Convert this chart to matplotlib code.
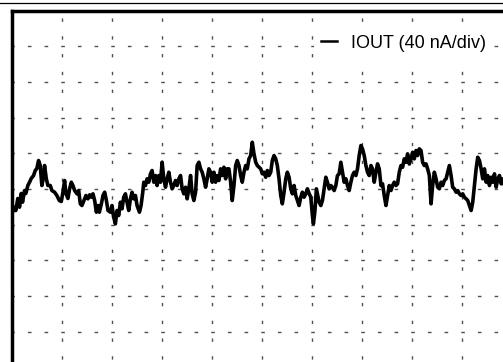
import numpy as np
import matplotlib.pyplot as plt
from matplotlib.lines import Line2D

plt.rcParams['font.family'] = ['Liberation Sans', 'DejaVu Sans']
plt.rcParams['lines.scale_dashes'] = False

# time in divisions, output current in nA (40 nA/div)
t_div = [
    0.02, 0.06, 0.086, 0.126, 0.16, 0.194, 0.22, 0.26, 0.286, 0.326,
    0.36, 0.394, 0.44, 0.474, 0.506, 0.54, 0.574, 0.606, 0.634, 0.66,
    0.694, 0.726, 0.774, 0.806, 0.86, 0.906, 0.954, 0.994, 1.026, 1.06,
    1.086, 1.126, 1.16, 1.194, 1.226, 1.26, 1.306, 1.34, 1.374, 1.406,
    1.446, 1.486, 1.526, 1.56, 1.594, 1.626, 1.66, 1.694, 1.726, 1.754,
    1.794, 1.826, 1.86, 1.894, 1.926, 1.974, 2.006, 2.04, 2.074, 2.106,
    2.14, 2.174, 2.206, 2.24, 2.274, 2.306, 2.34, 2.374, 2.406, 2.44,
    2.474, 2.506, 2.554, 2.586, 2.62, 2.64, 2.674, 2.706, 2.74, 2.774,
    2.806, 2.84, 2.874, 2.906, 2.94, 2.974, 3.006, 3.04, 3.074, 3.106,
    3.14, 3.174, 3.206, 3.24, 3.274, 3.306, 3.34, 3.374, 3.406, 3.44,
    3.474, 3.506, 3.54, 3.574, 3.606, 3.64, 3.674, 3.706, 3.74, 3.774,
    3.806, 3.84, 3.874, 3.906, 3.94, 3.974, 4.006, 4.04, 4.074, 4.106,
    4.14, 4.174, 4.206, 4.24, 4.274, 4.306, 4.34, 4.374, 4.406, 4.44,
    4.474, 4.506, 4.54, 4.574, 4.606, 4.64, 4.674, 4.706, 4.74, 4.774,
    4.806, 4.84, 4.874, 4.906, 4.94, 4.974, 5.006, 5.04, 5.074, 5.106,
    5.14, 5.174, 5.206, 5.24, 5.274, 5.306, 5.34, 5.374, 5.406, 5.44,
    5.474, 5.506, 5.54, 5.574, 5.606, 5.64, 5.674, 5.706, 5.74, 5.774,
    5.806, 5.84, 5.874, 5.906, 5.94, 5.974, 6.006, 6.026, 6.054, 6.086,
    6.114, 6.14, 6.174, 6.206, 6.24, 6.274, 6.306, 6.34, 6.374, 6.406,
    6.44, 6.474, 6.506, 6.54, 6.574, 6.606, 6.64, 6.674, 6.706, 6.74,
    6.774, 6.806, 6.84, 6.874, 6.906, 6.94, 6.974, 7.006, 7.04, 7.074,
    7.106, 7.14, 7.174, 7.206, 7.24, 7.274, 7.306, 7.34, 7.374, 7.406,
    7.44, 7.474, 7.506, 7.54, 7.574, 7.606, 7.64, 7.674, 7.706, 7.74,
    7.774, 7.806, 7.84, 7.874, 7.906, 7.94, 7.974, 8.006, 8.04, 8.074,
    8.106, 8.14, 8.174, 8.206, 8.24, 8.274, 8.306, 8.34, 8.374, 8.406,
    8.44, 8.474, 8.506, 8.54, 8.574, 8.606, 8.64, 8.674, 8.706, 8.74,
    8.774, 8.806, 8.84, 8.874, 8.906, 8.94, 8.974, 9.006, 9.04, 9.074,
    9.106, 9.14, 9.174, 9.206, 9.24, 9.274, 9.306, 9.34, 9.374, 9.406,
    9.44, 9.474, 9.506, 9.54, 9.574, 9.606, 9.64, 9.674, 9.706, 9.74,
    9.774, 9.806, 9.84, 9.9,
]
iout_na = [
    -26.0, -20.4, -24.1, -10.6, -20.4, -5.0, -14.8, -1.7, -5.0, 3.9,
    7.6, 11.8, 15.1, 20.7, 23.0, 31.9, 26.3, 3.9, 11.8, 26.3,
    11.8, 3.9, 3.9, -1.7, -3.6, -7.3, -12.9, -14.0, -3.6, 9.5,
    -5.0, -10.6, 0.2, 7.6, 3.9, -1.7, -5.4, -1.7, -16.6, -18.5,
    -12.9, -7.3, -11.0, -6.5, -9.2, -5.4, -12.9, -26.0, -18.5, -26.0,
    -16.6, -7.3, -3.6, -12.9, -24.1, -26.0, -18.5, -31.6, -39.0, -24.1,
    -29.7, -14.8, -22.2, -9.2, -5.4, -14.8, -24.1, -11.0, -3.6, -11.0,
    -7.3, -18.5, -26.0, -18.5, -3.6, 7.6, 3.9, 11.4, 7.6, 17.0,
    20.7, 7.6, 15.1, 3.9, 15.1, 7.6, 30.0, 11.4, 2.0, 11.4,
    18.8, 7.6, 0.2, 3.9, 9.5, 3.9, 11.4, 15.1, 0.2, -5.4,
    2.0, -11.0, 0.2, 15.1, -5.4, -12.9, -3.6, 26.3, 30.0, 22.6,
    18.8, 11.4, 2.0, 11.4, 22.6, 18.8, 7.6, 18.8, 7.6, 15.1,
    9.5, 22.6, 15.1, 24.4, 11.4, 22.6, 22.6, 7.6, -12.9, 3.9,
    26.3, 31.9, 26.3, 15.1, 7.6, 18.8, 26.3, 22.6, 33.8, 37.5,
    52.4, 39.4, 30.0, 26.3, 24.4, 22.6, 17.0, 18.8, 13.2, 20.7,
    15.1, 18.8, 31.9, 37.5, 33.8, 26.3, 11.4, -7.3, -16.6, -3.6,
    11.4, 18.8, 13.2, 0.2, -5.4, 3.9, -7.3, -12.9, -18.5, -9.2,
    -3.6, -9.2, -5.4, 0.2, -5.0, -9.2, -29.7, -39.0, -26.0, 0.2,
    -7.3, -14.8, -18.5, -12.9, 0.2, 13.2, 7.6, 0.2, 3.9, 2.0,
    -1.7, 3.9, 15.1, 17.0, 30.0, 18.8, 7.6, 11.4, 3.9, -1.7,
    7.6, 15.1, 18.8, 15.1, 22.6, 37.5, 48.7, 45.0, 37.5, 26.3,
    18.8, 15.1, 26.3, 22.6, 7.6, 18.8, 28.2, 22.6, 3.9, 5.8,
    -7.3, -18.5, -7.3, 3.9, -1.7, 3.9, 7.6, 3.9, 5.8, 18.8,
    26.3, 24.4, 33.8, 30.0, 39.4, 28.0, 33.8, 41.2, 33.8, 43.1,
    37.5, 45.0, 43.1, 30.0, 26.3, 28.2, 22.6, 15.1, -16.6, 3.9,
    18.8, 11.4, 2.0, 0.2, 7.6, 3.9, 9.5, 11.4, 18.8, 26.3,
    15.1, 2.0, 0.2, -3.6, -1.7, -5.4, -7.3, -5.4, -9.2, -11.0,
    -12.9, -18.5, -24.1, -14.8, 3.9, 22.6, 35.6, 31.9, 22.6, 11.4,
    22.6, 7.6, 15.1, 3.9, 13.2, 7.6, 17.0, 2.0, 11.4, 15.1,
    5.8, 11.4, 3.9, 6.0,
]

W, H = 503, 362
fig = plt.figure(figsize=(W / 100, H / 100), dpi=100)

# scope screen: 10 x 10 divisions, partly running off the page
left, top = 11.5, 10.5
dx, dy = 50.1, 35.7
ax = fig.add_axes([left / W, 1 - (top + 10 * dy) / H, 10 * dx / W, 10 * dy / H])

ax.plot(t_div, iout_na, color='black', lw=2.6, label='IOUT (40 nA/div)',
        solid_joinstyle='round')

ax.set_xlim(0, 10)
ax.set_ylim(-200, 200)
ax.set_xticks(np.arange(0, 11))
ax.set_yticks(np.arange(-200, 201, 40))
ax.tick_params(length=0, labelbottom=False, labelleft=False)

ax.grid(True, color='#505050', lw=1.0)
for gl in ax.get_xgridlines():
    gl.set_linestyle((10.0, (2.4, 10.4)))
for gl in ax.get_ygridlines():
    gl.set_linestyle((0.9, (2.6, 9.4)))

for side in ('left', 'top'):
    ax.spines[side].set_linewidth(2.5)
for side in ('right', 'bottom'):
    ax.spines[side].set_visible(False)

# thin rule across the very top of the page
fig.add_artist(Line2D([0, 1], [1 - 2.5 / H] * 2, color='black', lw=0.9))

leg = ax.legend(loc='center left', bbox_to_anchor=(314 / W, 1 - 43 / H),
                bbox_transform=fig.transFigure, fontsize=13, frameon=True,
                facecolor='white', edgecolor='none', framealpha=1,
                fancybox=False, borderpad=0.4, borderaxespad=0,
                handlelength=0.9, handletextpad=0.75)
leg.legend_handles[0].set_linewidth(1.8)

fig.savefig('out.png', dpi=100)
